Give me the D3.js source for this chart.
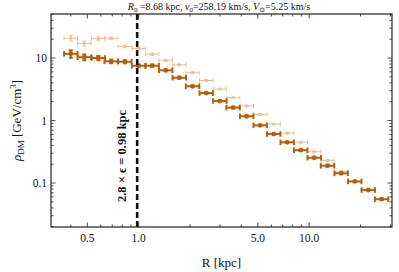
<!DOCTYPE html>
<html lang="en">
<head>
<meta charset="UTF-8">
<title>Dark matter density profile</title>
<script src="https://d3js.org/d3.v7.min.js"></script>
<style>
  body { margin: 0; background: #fff; }
  text { font-family: "Liberation Serif", "DejaVu Serif", serif; fill: #111; }
  .frame { fill: none; stroke: #222; stroke-width: 1.2px; }
  .tick { stroke: #222; stroke-width: 0.8px; }
</style>
</head>
<body>
<script>
// radial bins [kpc]
const radius = [0.40, 0.48, 0.58, 0.69, 0.83, 1.00, 1.20, 1.44, 1.73, 2.07, 2.49, 2.99,
                3.58, 4.30, 5.16, 6.19, 7.43, 8.92, 10.7, 12.8, 15.4, 18.5, 22.2, 26.6];
// dark series, rho_DM [GeV/cm^3]
const rhoDark = [11.7, 10.3, 10.0, 8.85, 8.73, 7.53, 7.53, 6.36, 4.84, 3.53, 2.75, 2.05,
                 1.61, 1.17, 0.838, 0.608, 0.448, 0.335, 0.254, 0.189, 0.143, 0.106, 0.0773, 0.0551];
const errDark = [1.6, 1.1, 0.8, 0.6, 0.5, 0.3, 0.3, 0.2, 0.15, 0.1, 0.08, 0.06,
                 0.04, 0.03, 0.02, 0.015, 0.01, 0.008, 0.006, 0.004, 0.003, 0.002, 0.002, 0.0015];
// light series
const rhoLight = [20.7, 17.1, 20.5, 20.7, 15.3, 14.2, 11.5, 9.22, 7.79, 5.82, 4.37, 3.19,
                  2.32, 1.71, 1.25, 0.879, 0.631, 0.45, 0.316, 0.231, 0.153];
const errLight = [2.0, 1.6, 1.2, 1.0, 0.7, 0.5, 0.4, 0.3, 0.2, 0.15, 0.1, 0.08,
                  0.05, 0.04, 0.03, 0.02, 0.015, 0.01, 0.008, 0.006, 0.004];
const binHalf = 1.095; // multiplicative half-width of each bin
const xTicksMajor = [0.5, 1, 5, 10];
const xTickLabels = ["0.5", "1.0", "5.0", "10.0"];
const yTicksMajor = [0.1, 1, 10];
const yTickLabels = ["0.1", "1", "10"];
const cutR = 0.98;

const width = 399, height = 272;
const margin = {left: 51, right: 7, top: 14, bottom: 45};

const svg = d3.select("body").append("svg")
    .attr("width", width)
    .attr("height", height);

const x = d3.scaleLog().domain([0.306, 30.6]).range([margin.left, width - margin.right]);
const y = d3.scaleLog().domain([0.0198, 50.6]).range([height - margin.bottom, margin.top]);

const x0 = margin.left, x1 = width - margin.right;
const y0 = height - margin.bottom, y1 = margin.top;

// minor tick positions
const xMinor = [];
[0.1, 1, 10].forEach(d => { for (let k = 2; k <= 9; k++) xMinor.push(d * k); });
const xMinorIn = xMinor.filter(v => v > 0.306 && v < 30.6 && !xTicksMajor.includes(v));
const yMinor = [];
[0.01, 0.1, 1, 10].forEach(d => { for (let k = 2; k <= 9; k++) yMinor.push(d * k); });
const yMinorIn = yMinor.filter(v => v > 0.0198 && v < 50.6);

const ticks = svg.append("g");
function vTicks(vals, len) {
  vals.forEach(v => {
    ticks.append("line").attr("class", "tick")
      .attr("x1", x(v)).attr("x2", x(v)).attr("y1", y0).attr("y2", y0 - len);
    ticks.append("line").attr("class", "tick")
      .attr("x1", x(v)).attr("x2", x(v)).attr("y1", y1).attr("y2", y1 + len);
  });
}
function hTicks(vals, len) {
  vals.forEach(v => {
    ticks.append("line").attr("class", "tick")
      .attr("x1", x0).attr("x2", x0 + len).attr("y1", y(v)).attr("y2", y(v));
    ticks.append("line").attr("class", "tick")
      .attr("x1", x1).attr("x2", x1 - len).attr("y1", y(v)).attr("y2", y(v));
  });
}
vTicks(xTicksMajor, 4.5);
vTicks(xMinorIn, 2.5);
hTicks(yTicksMajor, 4.5);
hTicks(yMinorIn, 2.5);

// tick labels
svg.append("g").selectAll("text")
  .data(xTicksMajor)
  .join("text")
  .attr("x", d => x(d))
  .attr("y", y0 + 15)
  .attr("text-anchor", "middle")
  .attr("font-size", 11.5)
  .text((d, i) => xTickLabels[i]);

svg.append("g").selectAll("text")
  .data(yTicksMajor)
  .join("text")
  .attr("x", x0 - 4)
  .attr("y", d => y(d) + 4)
  .attr("text-anchor", "end")
  .attr("font-size", 11.5)
  .text((d, i) => yTickLabels[i]);

// error bar series
function drawSeries(rho, err, color, opacity, sw, capH, r) {
  const data = rho.map((v, i) => ({r: radius[i], v: v, e: err[i]}));
  const g = svg.append("g").attr("opacity", opacity)
    .attr("stroke", color).attr("fill", color);
  const pts = g.selectAll("g").data(data).join("g");
  pts.append("line")
    .attr("x1", d => x(d.r / binHalf)).attr("x2", d => x(d.r * binHalf))
    .attr("y1", d => y(d.v)).attr("y2", d => y(d.v))
    .attr("stroke-width", sw);
  pts.append("line")
    .attr("x1", d => x(d.r)).attr("x2", d => x(d.r))
    .attr("y1", d => y(d.v + d.e)).attr("y2", d => y(Math.max(d.v - d.e, 1e-4)))
    .attr("stroke-width", sw);
  [1 / binHalf, binHalf].forEach(f => {
    pts.append("line")
      .attr("x1", d => x(d.r * f)).attr("x2", d => x(d.r * f))
      .attr("y1", d => y(d.v) - capH).attr("y2", d => y(d.v) + capH)
      .attr("stroke-width", sw);
  });
  pts.append("line")
    .attr("x1", d => x(d.r) - 2).attr("x2", d => x(d.r) + 2)
    .attr("y1", d => y(d.v + d.e)).attr("y2", d => y(d.v + d.e))
    .attr("stroke-width", sw);
  pts.append("line")
    .attr("x1", d => x(d.r) - 2).attr("x2", d => x(d.r) + 2)
    .attr("y1", d => y(Math.max(d.v - d.e, 1e-4))).attr("y2", d => y(Math.max(d.v - d.e, 1e-4)))
    .attr("stroke-width", sw);
  pts.append("circle")
    .attr("cx", d => x(d.r)).attr("cy", d => y(d.v))
    .attr("r", r).attr("stroke", "none");
}
drawSeries(rhoLight, errLight, "#d98f45", 0.55, 1, 2.2, 1.6);
drawSeries(rhoDark, errDark, "#b5600f", 1, 2, 2.8, 2.4);

// dashed cut line
svg.append("line")
  .attr("x1", x(cutR)).attr("x2", x(cutR))
  .attr("y1", y0).attr("y2", y1)
  .attr("stroke", "#111").attr("stroke-width", 2.6)
  .attr("stroke-dasharray", "6,3");

svg.append("text")
  .attr("transform", `translate(${x(cutR) - 11},156) rotate(-90)`)
  .attr("text-anchor", "middle")
  .attr("font-size", 12.5)
  .attr("font-weight", "bold")
  .text("2.8 × ϵ = 0.98 kpc");

// frame
svg.append("rect").attr("class", "frame")
  .attr("x", x0).attr("y", y1)
  .attr("width", x1 - x0).attr("height", y0 - y1);

// axis labels
svg.append("text")
  .attr("x", (x0 + x1) / 2)
  .attr("y", 267)
  .attr("text-anchor", "middle")
  .attr("font-size", 13)
  .text("R [kpc]");

const yl = svg.append("text")
  .attr("transform", `translate(21,${(y0 + y1) / 2}) rotate(-90)`)
  .attr("text-anchor", "middle")
  .attr("font-size", 13);
yl.append("tspan").attr("font-style", "italic").text("ρ");
yl.append("tspan").attr("font-size", 9).attr("dy", 3).text("DM");
yl.append("tspan").attr("dy", -3).text(" [GeV/cm");
yl.append("tspan").attr("font-size", 9).attr("dy", -5).text("3");
yl.append("tspan").attr("dy", 5).text("]");

// title
const t = svg.append("text")
  .attr("x", 219)
  .attr("y", 10)
  .attr("text-anchor", "middle")
  .attr("font-size", 10);
t.append("tspan").attr("font-style", "italic").text("R");
t.append("tspan").attr("font-size", 7).attr("dy", 2).text("0");
t.append("tspan").attr("dy", -2).text(" =8.68 kpc, ");
t.append("tspan").attr("font-style", "italic").text("v");
t.append("tspan").attr("font-size", 7).attr("dy", 2).text("0");
t.append("tspan").attr("dy", -2).text("=258.19 km/s, ");
t.append("tspan").attr("font-style", "italic").text("V");
t.append("tspan").attr("font-size", 7).attr("dy", 2).text("⊙");
t.append("tspan").attr("dy", -2).text("=5.25 km/s");
</script>
</body>
</html>
